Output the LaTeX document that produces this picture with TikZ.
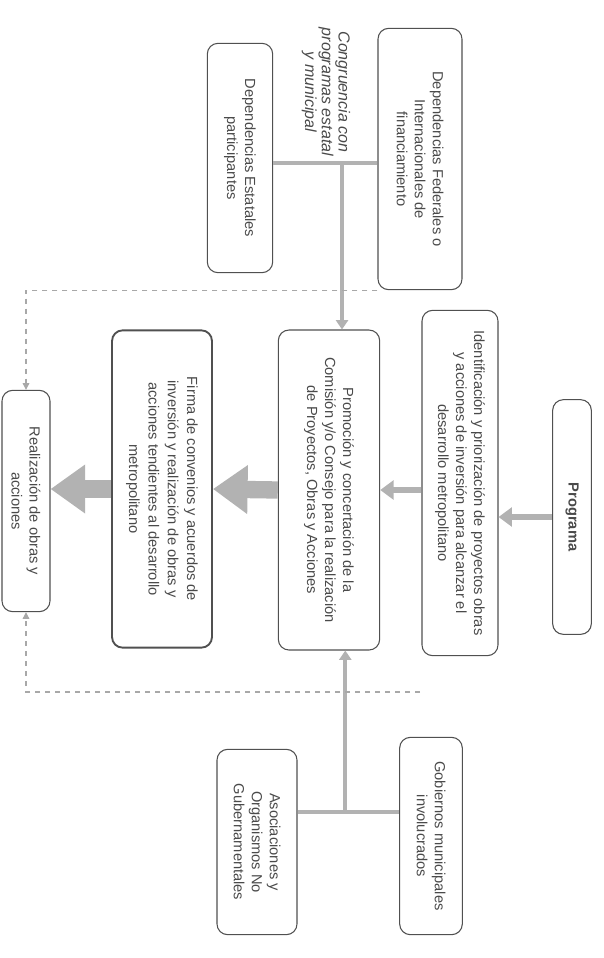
\documentclass[tikz,border=0pt]{standalone}
\usepackage{fontspec}
\setmainfont{Liberation Sans}
\usepackage{tikz}
\usetikzlibrary{arrows.meta,calc,positioning}

\definecolor{borde}{HTML}{505050}
\definecolor{flecha}{HTML}{B2B2B2}
\definecolor{texto}{HTML}{4A4A4A}
\definecolor{punteada}{HTML}{A8A8A8}

\tikzset{
  caja/.style={draw=borde, line width=0.8pt, rounded corners=8pt, align=center,
    text=texto, font=\fontsize{11}{13.5}\selectfont, inner sep=2pt},
  flechachica/.style={draw=flecha, line width=5pt, -{Triangle[length=10pt,width=14pt]}},
  flechagrande/.style={draw=flecha, line width=13pt, -{Triangle[length=26pt,width=35pt]}},
  linea/.style={draw=flecha, line width=3pt},
  entrada/.style={draw=flecha, line width=3pt, -{Triangle[length=7pt,width=9pt]}},
  punteo/.style={draw=punteada, line width=0.8pt, dash pattern=on 4pt off 3.5pt, -{Triangle[length=5pt,width=5pt]}}
}

\begin{document}
\begin{tikzpicture}[x=0.75pt, y=0.75pt, rotate=-90, transform shape]
\useasboundingbox (0,0) rectangle (958,604);

% cadena principal
\node[caja, minimum width=176pt, minimum height=29pt, font=\fontsize{11}{13.5}\selectfont\bfseries] (prog) at (517,572) {Programa};
\node[caja, minimum width=259pt, minimum height=57pt] (ident) at (483,460)
  {Identificación y priorización de proyectos obras\\y acciones de inversión para alcanzar el\\desarrollo metropolitano};
\node[caja, minimum width=240pt, minimum height=76pt] (promo) at (490,329)
  {Promoción y concertación de la\\Comisión y/o Consejo para la realización\\de Proyectos, Obras y Acciones};
\node[caja, line width=1.4pt, minimum width=238pt, minimum height=75pt, font=\fontsize{11}{14.5}\selectfont] (firma) at (489,162)
  {Firma de convenios y acuerdos de\\inversión y realización de obras y\\acciones tendientes al desarrollo\\metropolitano};
\node[caja, minimum width=166pt, minimum height=36pt] (real) at (501,26)
  {Realización de obras y\\acciones};

% participantes
\node[caja, minimum width=196pt, minimum height=63pt] (fed) at (159,420)
  {Dependencias Federales o\\Internacionales de\\financiamiento};
\node[caja, minimum width=172pt, minimum height=49pt] (est) at (158,240)
  {Dependencias Estatales\\participantes};
\node[align=center, text=texto, font=\fontsize{12}{12.5}\selectfont\itshape] (congr) at (92,326)
  {Congruencia con\\programas estatal\\y municipal};
\node[caja, minimum width=148pt, minimum height=47pt] (gob) at (836,431)
  {Gobiernos municipales\\involucrados};
\node[caja, minimum width=139pt, minimum height=60pt] (asoc) at (842,257)
  {Asociaciones y\\Organismos No\\Gubernamentales};

\draw[flechachica] (prog.south) -- (prog.south |- ident.north);
\draw[flechachica] (promo.north |- ident.south) -- (promo.north);
\draw[flechagrande] (promo.south) -- (firma.north);
\draw[flechagrande] (firma.south) -- (firma.south |- real.north);

% llegadas laterales
\coordinate (bA) at ($(est.north)+(5,0)$);
\coordinate (jA) at ($(bA)!0.66!(bA |- fed.south)$);
\draw[linea] (bA) -- (bA |- fed.south);
\draw[entrada] (jA) -- (jA -| promo.west);

\coordinate (bB) at ($(gob.south)+(-24,0)$);
\coordinate (jB) at ($(bB |- asoc.north)!0.47!(bB)$);
\draw[linea] (bB) -- (bB |- asoc.north);
\draw[entrada] (jB) -- (jB -| promo.east);

\draw[punteo] (fed.south east) |- (real.west);
\coordinate (libre) at (692,420);
\draw[punteo] (libre) |- (real.east);
\end{tikzpicture}
\end{document}
